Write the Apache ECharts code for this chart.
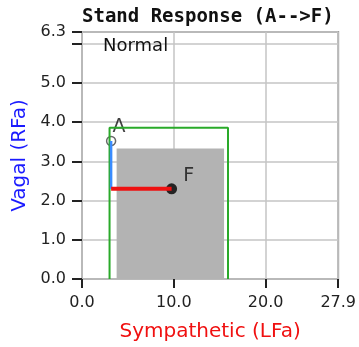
<!DOCTYPE html>
<html>
<head>
<meta charset="utf-8">
<script src="https://cdn.jsdelivr.net/npm/echarts@6/dist/echarts.min.js"></script>
<style>
  html, body { margin: 0; padding: 0; background: #fff; }
  #chart { width: 359px; height: 347px; }
</style>
</head>
<body>
<div id="chart"></div>
<script>
// axis setup
const xMax = 27.9;
const yMax = 6.3;
const hiddenYTicks = [6]; // tick drawn, label not shown

// normal zone (green outline) and grey box
const normalBox = [[3.0, 0], [3.0, 3.86], [15.9, 3.86], [15.9, 0]];
const greyBox = [3.77, 0, 15.47, 3.33]; // x0, y0, x1, y1

// response path A -> F
const pointA = [3.17, 3.52];
const corner = [3.17, 2.3];
const pointF = [9.76, 2.3];

const chart = echarts.init(document.getElementById('chart'));

const fmt = v => (hiddenYTicks.indexOf(v) >= 0 ? '' : v.toFixed(1));

const option = {
  animation: false,
  title: {
    text: 'Stand Response (A-->F)',
    left: 82, top: 8, padding: 0,
    textStyle: { fontFamily: 'DejaVu Sans Mono', fontWeight: 'bold', fontSize: 19, color: '#111' }
  },
  grid: {
    left: 82, top: 32, width: 261, height: 249,
    show: true, borderColor: '#999', borderWidth: 2
  },
  xAxis: {
    type: 'value', min: 0, max: xMax, interval: 10,
    offset: 3,
    name: 'Sympathetic (LFa)', nameLocation: 'middle', nameGap: 40,
    nameTextStyle: { color: '#f01010', fontSize: 20, fontFamily: 'DejaVu Sans' },
    axisLine: { show: false },
    axisTick: { show: true, length: 9, lineStyle: { color: '#222', width: 2 } },
    axisLabel: { formatter: fmt, margin: 13, color: '#222', fontSize: 16, fontFamily: 'DejaVu Sans' },
    splitLine: { show: true, lineStyle: { color: '#c4c4c4', width: 1.5 } }
  },
  yAxis: {
    type: 'value', min: 0, max: yMax, interval: 1,
    offset: 3,
    name: 'Vagal (RFa)', nameLocation: 'middle', nameGap: 45,
    nameTextStyle: { color: '#1a1aff', fontSize: 20, fontFamily: 'DejaVu Sans' },
    axisLine: { show: false },
    axisTick: { show: true, length: 10, lineStyle: { color: '#222', width: 2 } },
    axisLabel: { formatter: fmt, margin: 13, color: '#222', fontSize: 16, fontFamily: 'DejaVu Sans' },
    splitLine: { show: true, lineStyle: { color: '#c4c4c4', width: 1.5 } }
  },
  graphic: [{
    type: 'text', left: 103, top: 37, z: 100,
    style: { text: 'Normal', fontSize: 18, fontFamily: 'DejaVu Sans', fill: '#111' }
  }],
  series: [
    {
      type: 'custom',
      renderItem: (params, api) => {
        const p0 = api.coord([greyBox[0], greyBox[3]]);
        const p1 = api.coord([greyBox[2], greyBox[1]]);
        return {
          type: 'rect',
          shape: { x: p0[0], y: p0[1], width: p1[0] - p0[0], height: p1[1] - p0[1] },
          style: { fill: '#b3b3b3' }
        };
      },
      data: [greyBox]
    },
    {
      type: 'line', data: normalBox, symbol: 'none',
      lineStyle: { color: '#2aaa2a', width: 2 }
    },
    {
      type: 'line', data: [pointA, corner], symbol: 'none',
      lineStyle: { color: '#3a8cff', width: 2.5 }
    },
    {
      type: 'line', data: [corner, pointF], symbol: 'none',
      lineStyle: { color: '#ee1111', width: 4 }
    },
    {
      type: 'scatter', data: [pointA], symbol: 'circle', symbolSize: 9,
      itemStyle: { color: '#fff', borderColor: '#444', borderWidth: 1.5 },
      label: { show: true, formatter: 'A', position: 'inside', offset: [8, -14],
        fontSize: 19, fontFamily: 'DejaVu Sans', color: '#111' }
    },
    {
      type: 'scatter', data: [pointF], symbol: 'circle', symbolSize: 11,
      itemStyle: { color: '#000' },
      label: { show: true, formatter: 'F', position: 'inside', offset: [17, -13],
        fontSize: 19, fontFamily: 'DejaVu Sans', color: '#111' }
    }
  ]
};

chart.setOption(option);
</script>
</body>
</html>
